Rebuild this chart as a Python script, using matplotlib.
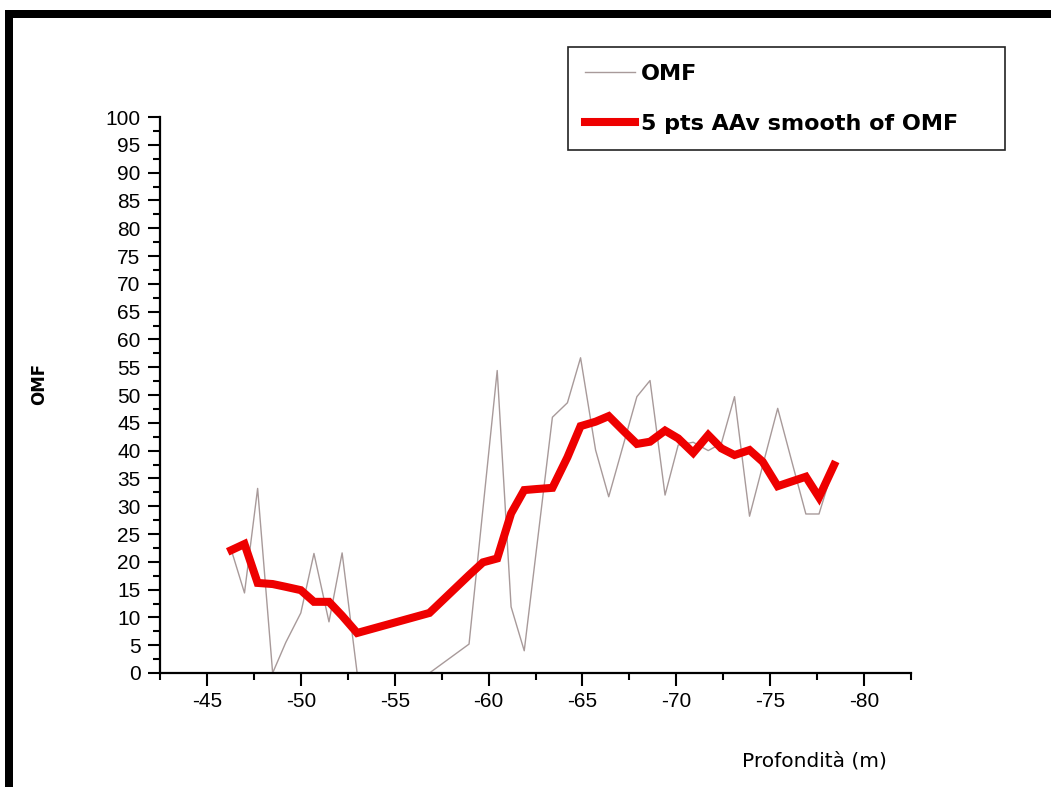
import matplotlib
matplotlib.use("Agg")
import matplotlib.pyplot as plt
from matplotlib.patches import Rectangle
from matplotlib.ticker import MultipleLocator

plt.rcParams['font.family'] = ['Liberation Sans', 'DejaVu Sans']
plt.rcParams['axes.unicode_minus'] = False

# profondità dei campioni (m)
depth = [-46.3, -47.0, -47.7, -48.5, -49.2, -50.0, -50.7, -51.5, -52.2, -53.0,
         -56.85, -58.96, -59.7, -60.46, -61.2, -61.9, -62.6, -63.4, -64.2, -64.9,
         -65.7, -66.4, -67.2, -67.9, -68.6, -69.4, -70.1, -70.9, -71.7, -72.4,
         -73.1, -73.9, -74.6, -75.4, -76.1, -76.9, -77.6, -78.4]

# OMF misurato
omf = [22.1, 14.4, 33.2, 0.0, 5.5, 10.8, 21.5, 9.2, 21.6, 0.0,
       0.0, 5.2, 29.5, 54.4, 11.9, 4.0, 23.6, 46.0, 48.6, 56.7,
       40.1, 31.7, 41.3, 49.7, 52.6, 32.0, 41.0, 41.5, 40.0, 41.3,
       49.7, 28.2, 37.3, 47.6, 38.7, 28.6, 28.6, 37.4]

# media mobile su 5 punti
omf_smooth = [22.1, 23.2, 16.2, 16.0, 15.5, 14.9, 12.8, 12.8, 10.3, 7.2,
              10.8, 17.6, 19.9, 20.6, 28.7, 32.9, 33.1, 33.3, 38.8, 44.4,
              45.2, 46.2, 43.5, 41.2, 41.6, 43.6, 42.2, 39.6, 42.8, 40.4,
              39.2, 40.1, 38.0, 33.6, 34.4, 35.3, 31.6, 37.4]

W, H = 1051, 787
fig = plt.figure(figsize=(W / 100, H / 100), dpi=100)
ax = fig.add_axes([160 / W, 1 - 673 / H, 751 / W, 556 / H])

ax.plot(depth, omf, color='#a89a9a', lw=1.0, label='OMF')
ax.plot(depth, omf_smooth, color='#ee0000', lw=5.8, solid_joinstyle='miter',
        label='5 pts AAv smooth of OMF')

ax.set_xlim(-42.5, -82.5)
ax.set_ylim(0, 100)
ax.spines['top'].set_visible(False)
ax.spines['right'].set_visible(False)
for s in ('left', 'bottom'):
    ax.spines[s].set_linewidth(1.6)

ax.xaxis.set_major_locator(MultipleLocator(5))
ax.xaxis.set_minor_locator(MultipleLocator(2.5))
ax.yaxis.set_major_locator(MultipleLocator(5))
ax.yaxis.set_minor_locator(MultipleLocator(2.5))
ax.set_xticks(range(-45, -81, -5))

ax.tick_params(which='major', direction='out', length=9, width=1.5,
               labelsize=15, pad=5)
ax.tick_params(which='minor', direction='out', length=5, width=1.5)

ax.set_ylabel('OMF', fontsize=12, fontweight='bold', family='DejaVu Sans')
ax.yaxis.set_label_coords(-0.149, 0.52)
ax.set_xlabel('Profondità (m)', fontsize=14.5, family='DejaVu Sans')
ax.xaxis.set_label_coords(0.872, -0.142)

leg = ax.legend(loc='upper left', bbox_to_anchor=(568 / W, 1 - 150 / H, 437 / W, 103 / H),
                bbox_transform=fig.transFigure, mode='expand', borderaxespad=0,
                fancybox=False, edgecolor='#222222', framealpha=1,
                handlelength=2.25, handletextpad=0.3, borderpad=0.75,
                labelspacing=1.35,
                prop={'family': 'DejaVu Sans', 'weight': 'bold', 'size': 16})
leg.get_frame().set_linewidth(1.2)

# cornice nera
fig.add_artist(Rectangle((5 / W, 1 - 18 / H), 1 - 5 / W, 8 / H,
                         transform=fig.transFigure, color='black', lw=0))
fig.add_artist(Rectangle((5 / W, 0), 8 / W, 1 - 10 / H,
                         transform=fig.transFigure, color='black', lw=0))

fig.savefig('out.png', dpi=100)
